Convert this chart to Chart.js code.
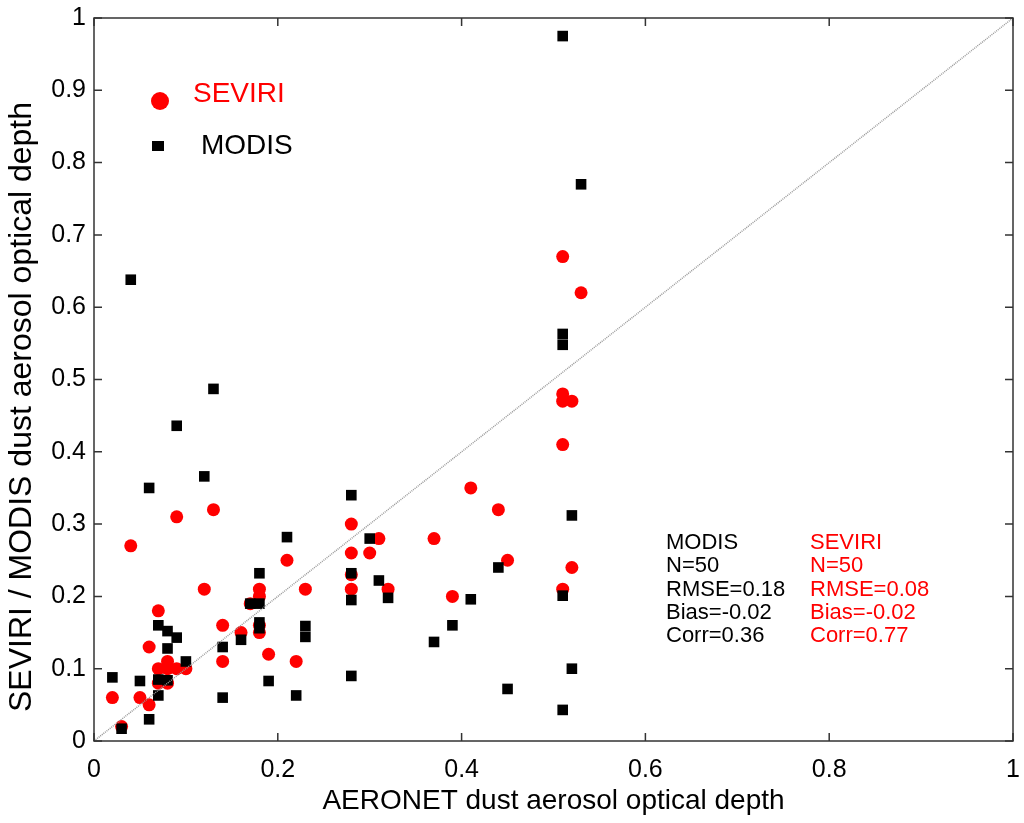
<!DOCTYPE html>
<html lang="en">

<head>
  <meta charset="UTF-8">
  <title>SEVIRI / MODIS vs AERONET dust AOD</title>
  <script src="https://cdn.jsdelivr.net/npm/chart.js"></script>
  <style>
    body {
      margin: 0;
      background: #fff;
    }

    canvas {
      display: block;
    }
  </style>
</head>

<body>

  <canvas id="myChart" width="1024" height="823"></canvas>

  <script>
    // values
    const seviriX = [0.02, 0.03, 0.04, 0.05, 0.06, 0.06, 0.07, 0.07, 0.07, 0.08, 0.08, 0.08, 0.09, 0.09, 0.10,
      0.12, 0.13, 0.14, 0.14, 0.16, 0.17, 0.18, 0.18, 0.18, 0.18, 0.19, 0.21, 0.22, 0.23,
      0.28, 0.28, 0.28, 0.28, 0.30, 0.31, 0.32, 0.37, 0.39, 0.41, 0.44, 0.45,
      0.51, 0.51, 0.51, 0.51, 0.51, 0.52, 0.52, 0.53];
    const seviriY = [0.06, 0.02, 0.27, 0.06, 0.05, 0.13, 0.18, 0.10, 0.08, 0.11, 0.10, 0.08, 0.10, 0.31, 0.10,
      0.21, 0.32, 0.16, 0.11, 0.15, 0.19, 0.21, 0.20, 0.16, 0.15, 0.12, 0.25, 0.11, 0.21,
      0.30, 0.26, 0.23, 0.21, 0.26, 0.28, 0.21, 0.28, 0.20, 0.35, 0.32, 0.25,
      0.67, 0.48, 0.47, 0.41, 0.21, 0.47, 0.24, 0.62];

    const modisX = [0.02, 0.03, 0.04, 0.05, 0.06, 0.06, 0.07, 0.07, 0.07, 0.08, 0.08, 0.08, 0.09, 0.09, 0.10,
      0.12, 0.13, 0.14, 0.14, 0.16, 0.17, 0.18, 0.18, 0.18, 0.18, 0.19, 0.21, 0.22, 0.23, 0.23,
      0.28, 0.28, 0.28, 0.28, 0.30, 0.31, 0.32, 0.37, 0.39, 0.41, 0.44, 0.45,
      0.51, 0.51, 0.51, 0.51, 0.51, 0.52, 0.52, 0.53];
    const modisY = [0.088, 0.017, 0.638, 0.083, 0.03, 0.35, 0.16, 0.085, 0.063, 0.152, 0.128, 0.084, 0.143, 0.436, 0.11,
      0.366, 0.487, 0.13, 0.06, 0.14, 0.19, 0.19, 0.232, 0.164, 0.156, 0.083, 0.282, 0.063, 0.159, 0.144,
      0.34, 0.232, 0.195, 0.09, 0.28, 0.222, 0.198, 0.137, 0.16, 0.196, 0.24, 0.072,
      0.975, 0.563, 0.548, 0.201, 0.043, 0.312, 0.10, 0.77];

    const oneToOne = [0, 1];

    const xTickLabels = ['0', '0.2', '0.4', '0.6', '0.8', '1'];
    const yTickLabels = ['0', '0.1', '0.2', '0.3', '0.4', '0.5', '0.6', '0.7', '0.8', '0.9', '1'];

    const modisStats = ['MODIS', 'N=50', 'RMSE=0.18', 'Bias=-0.02', 'Corr=0.36'];
    const seviriStats = ['SEVIRI', 'N=50', 'RMSE=0.08', 'Bias=-0.02', 'Corr=0.77'];

    const yTitle = 'SEVIRI / MODIS dust aerosol optical depth';

    const toPoints = (xs, ys) => xs.map((x, i) => ({ x, y: ys[i] }));

    const FONT = "'Liberation Sans', Arial, sans-serif";
    const RED = '#ff0000';

    // box, inward ticks, legend, y title and stats text
    const framePlugin = {
      id: 'frame',
      afterDraw(chart) {
        const { ctx, chartArea: a, scales } = chart;
        const tick = 8;
        ctx.save();
        ctx.strokeStyle = '#333';
        ctx.lineWidth = 1.5;
        ctx.strokeRect(a.left, a.top, a.right - a.left, a.bottom - a.top);
        ctx.beginPath();
        scales.x.ticks.forEach(t => {
          const px = scales.x.getPixelForValue(t.value);
          ctx.moveTo(px, a.bottom); ctx.lineTo(px, a.bottom - tick);
          ctx.moveTo(px, a.top); ctx.lineTo(px, a.top + tick);
        });
        scales.y.ticks.forEach(t => {
          const py = scales.y.getPixelForValue(t.value);
          ctx.moveTo(a.left, py); ctx.lineTo(a.left + tick, py);
          ctx.moveTo(a.right, py); ctx.lineTo(a.right - tick, py);
        });
        ctx.stroke();

        // y title (sits a little below the axis middle in the original)
        ctx.save();
        ctx.translate(22, 407);
        ctx.rotate(-Math.PI / 2);
        ctx.font = '32px ' + FONT;
        ctx.fillStyle = '#000';
        ctx.textAlign = 'center';
        ctx.textBaseline = 'middle';
        ctx.fillText(yTitle, 0, 0);
        ctx.restore();

        // legend
        ctx.fillStyle = RED;
        ctx.beginPath();
        ctx.arc(160, 101, 9, 0, Math.PI * 2);
        ctx.fill();
        ctx.fillStyle = '#000';
        ctx.fillRect(152, 141, 12, 10);
        ctx.textBaseline = 'middle';
        ctx.font = '28px ' + FONT;
        ctx.fillStyle = RED;
        ctx.fillText('SEVIRI', 193, 94);
        ctx.fillStyle = '#000';
        ctx.fillText('MODIS', 201, 146);

        // stats
        ctx.font = '22px ' + FONT;
        modisStats.forEach((s, i) => {
          ctx.fillStyle = '#000';
          ctx.fillText(s, 666, 543 + i * 23.3);
        });
        seviriStats.forEach((s, i) => {
          ctx.fillStyle = RED;
          ctx.fillText(s, 810, 543 + i * 23.3);
        });
        ctx.restore();
      }
    };

    const ctx = document.getElementById('myChart').getContext('2d');

    new Chart(ctx, {
      type: 'scatter',
      data: {
        datasets: [
          {
            label: '1:1',
            type: 'line',
            data: toPoints(oneToOne, oneToOne),
            borderColor: '#9a9a9a',
            borderWidth: 1.5,
            borderDash: [1, 1],
            pointRadius: 0,
            fill: false,
            order: 0,
          },
          {
            label: 'MODIS',
            data: toPoints(modisX, modisY),
            pointStyle: 'rect',
            pointRadius: 7.5,
            backgroundColor: '#000',
            borderColor: '#000',
            borderWidth: 0,
            order: 1,
          },
          {
            label: 'SEVIRI',
            data: toPoints(seviriX, seviriY),
            pointStyle: 'circle',
            pointRadius: 6.5,
            backgroundColor: RED,
            borderColor: RED,
            borderWidth: 0,
            order: 2,
          },
        ],
      },
      options: {
        responsive: false,
        animation: false,
        devicePixelRatio: 1,
        layout: {
          padding: { top: 18, right: 11, left: 0, bottom: 0 },
        },
        plugins: {
          legend: { display: false },
          tooltip: { enabled: false },
        },
        scales: {
          x: {
            type: 'linear',
            min: 0,
            max: 1,
            afterFit: s => {
              s.height = 82;
              s.paddingLeft = 0;
              s.paddingRight = 0;
            },
            grid: { display: false, drawTicks: false },
            border: { display: false },
            ticks: {
              stepSize: 0.2,
              padding: 14,
              color: '#000',
              font: { family: FONT, size: 25 },
              maxRotation: 0,
              callback: (v, i) => xTickLabels[i],
            },
            title: {
              display: true,
              text: 'AERONET dust aerosol optical depth',
              color: '#000',
              font: { family: FONT, size: 28 },
              padding: { top: 0, bottom: 5 },
            },
          },
          y: {
            type: 'linear',
            min: 0,
            max: 1,
            afterFit: s => {
              s.width = 94;
              s.paddingTop = 0;
              s.paddingBottom = 0;
            },
            grid: { display: false, drawTicks: false },
            border: { display: false },
            ticks: {
              stepSize: 0.1,
              padding: 8,
              color: '#000',
              font: { family: FONT, size: 25 },
              callback: (v, i) => yTickLabels[i],
            },
          },
        },
      },
      plugins: [framePlugin],
    });
  </script>

</body>

</html>
